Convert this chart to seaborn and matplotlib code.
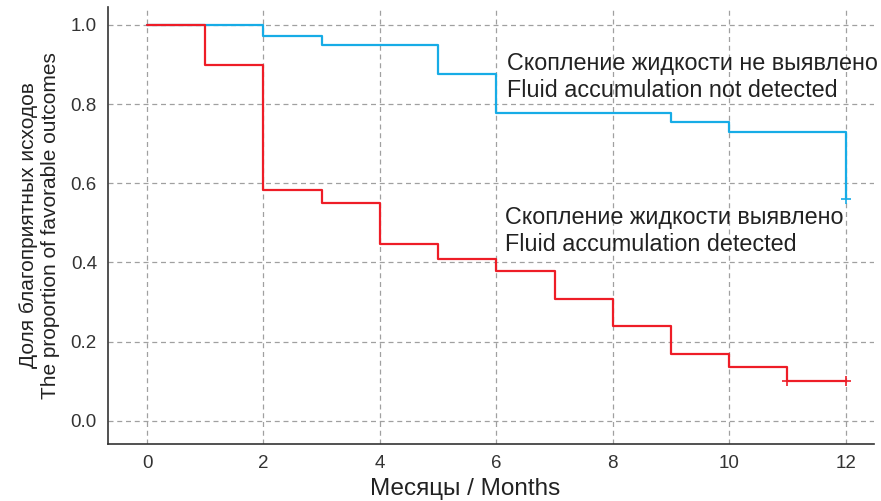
import matplotlib
matplotlib.use("Agg")
import matplotlib.pyplot as plt
import seaborn as sns
import pandas as pd

# Data
blue_t = [0, 2, 3, 5, 6, 9, 10, 12]
blue_s = [1.0, 0.972, 0.95, 0.875, 0.777, 0.754, 0.730, 0.56]
blue_cens_t = [12]
blue_cens_s = [0.56]

red_t = [0, 1, 2, 3, 4, 5, 6, 7, 8, 9, 10, 11, 12]
red_s = [1.0, 0.898, 0.583, 0.55, 0.447, 0.41, 0.378, 0.308, 0.24, 0.169, 0.135, 0.10, 0.10]
red_cens_t = [11, 12]
red_cens_s = [0.10, 0.10]

label_blue = "Скопление жидкости не выявлено\nFluid accumulation not detected"
label_red = "Скопление жидкости выявлено\nFluid accumulation detected"
x_ticks = [0, 2, 4, 6, 8, 10, 12]
y_ticks = [0.0, 0.2, 0.4, 0.6, 0.8, 1.0]

sns.set_style("white")
plt.rcParams['font.family'] = ['Liberation Sans', 'DejaVu Sans']

BLUE = "#17ACE6"
RED = "#EE1D27"

df = pd.concat([
    pd.DataFrame({"t": blue_t, "s": blue_s, "g": "blue"}),
    pd.DataFrame({"t": red_t, "s": red_s, "g": "red"}),
])

fig = plt.figure(figsize=(8.81, 5.01), dpi=100)
ax = fig.add_axes([0.1226, 0.114, 0.869, 0.872])

sns.lineplot(data=df, x="t", y="s", hue="g", palette={"blue": BLUE, "red": RED},
             estimator=None, drawstyle="steps-post", linewidth=1.6, legend=False, ax=ax,
             zorder=3)
sns.scatterplot(x=blue_cens_t, y=blue_cens_s, marker="+", color=BLUE, s=60, linewidth=1.2, ax=ax, zorder=4)
sns.scatterplot(x=red_cens_t, y=red_cens_s, marker="+", color=RED, s=60, linewidth=1.2, ax=ax, zorder=4)

ax.set_xlim(-0.67, 12.48)
ax.set_ylim(-0.058, 1.045)
ax.set_xticks(x_ticks)
ax.set_yticks(y_ticks)
ax.set_yticklabels([f"{v:.1f}" for v in y_ticks])
ax.grid(True, linestyle=(0, (4, 3)), color="#a0a0a0", linewidth=0.9)
ax.tick_params(direction="in", length=5, width=1, colors="#333333", labelsize=13.5, pad=8)
for s in ["top", "right"]:
    ax.spines[s].set_visible(False)
for s in ["left", "bottom"]:
    ax.spines[s].set_color("#333333")
    ax.spines[s].set_linewidth(1.2)

ax.set_xlabel("Месяцы / Months", fontsize=17.5, color="#222222")
ax.xaxis.set_label_coords(0.466, -0.078)
ax.set_ylabel("Доля благоприятных исходов\nThe proportion of favorable outcomes",
              fontsize=15, color="#222222", labelpad=8)

ax.text(6.18, 0.869, label_blue, fontsize=16.8, color="#222222", va="center", ha="left",
        linespacing=1.2)
ax.text(6.15, 0.48, label_red, fontsize=16.8, color="#222222", va="center", ha="left",
        linespacing=1.2)

fig.savefig("out.png", dpi=100)
